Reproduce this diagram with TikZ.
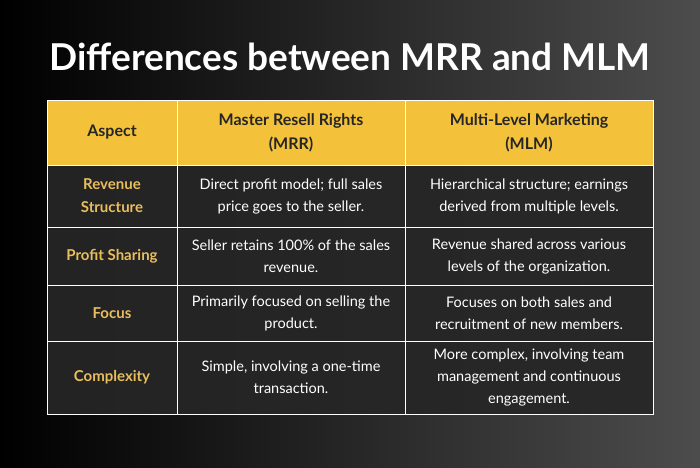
\documentclass[tikz,border=0pt]{standalone}
\usepackage{fontspec}
\setmainfont{Lato}
\usetikzlibrary{positioning}
\definecolor{gold}{HTML}{F3C13A}
\definecolor{goldtext}{HTML}{E9BE5C}
\definecolor{cellbg}{HTML}{262626}
\tikzset{
  cell/.style={rectangle,draw=white!85,line width=1pt,fill=cellbg,fill opacity=0.92,text opacity=1,
    text=white,align=center,inner sep=0pt,font=\fontsize{14.5}{22}\selectfont},
  headcell/.style={cell,fill=gold,fill opacity=1,text=black!85,font=\fontsize{16}{24}\selectfont\bfseries},
  aspectcell/.style={cell,text=goldtext,font=\fontsize{15}{23}\selectfont\bfseries}
}
\newcommand{\tcell}[6]{% style, name, x0, x1, y0, y1 -> text follows
  \node[#1,minimum width=#4pt-#3pt,minimum height=#6pt-#5pt] (#2) at ({(#3+#4)/2},{-(#5+#6)/2})}
\begin{document}
\begin{tikzpicture}[x=1pt,y=1pt]
  \shade[left color=black,right color=black!70] (0,0) rectangle (700,-467);
  \useasboundingbox (0,0) rectangle (700,-467);
  \node[text=white,font=\fontsize{37}{40}\selectfont\bfseries] (title) at (350,-57) {Differences between MRR and MLM};
  % header
  \tcell{headcell}{h1}{47}{177}{100}{165} {Aspect};
  \tcell{headcell}{h2}{177}{405}{100}{165} {Master Resell Rights\\(MRR)};
  \tcell{headcell}{h3}{405}{653}{100}{165} {Multi-Level Marketing\\(MLM)};
  % row 1
  \tcell{aspectcell}{a1}{47}{177}{165}{227} {Revenue\\Structure};
  \tcell{cell}{b1}{177}{405}{165}{227} {Direct profit model; full sales\\price goes to the seller.};
  \tcell{cell}{c1}{405}{653}{165}{227} {Hierarchical structure; earnings\\derived from multiple levels.};
  % row 2
  \tcell{aspectcell}{a2}{47}{177}{227}{285} {Profit Sharing};
  \tcell{cell}{b2}{177}{405}{227}{285} {Seller retains 100\% of the sales\\revenue.};
  \tcell{cell}{c2}{405}{653}{227}{285} {Revenue shared across various\\levels of the organization.};
  % row 3
  \tcell{aspectcell}{a3}{47}{177}{285}{341} {Focus};
  \tcell{cell}{b3}{177}{405}{285}{341} {Primarily focused on selling the\\product.};
  \tcell{cell}{c3}{405}{653}{285}{341} {Focuses on both sales and\\recruitment of new members.};
  % row 4
  \tcell{aspectcell}{a4}{47}{177}{341}{414} {Complexity};
  \tcell{cell}{b4}{177}{405}{341}{414} {Simple, involving a one-time\\transaction.};
  \tcell{cell}{c4}{405}{653}{341}{414} {More complex, involving team\\management and continuous\\engagement.};
\end{tikzpicture}
\end{document}
